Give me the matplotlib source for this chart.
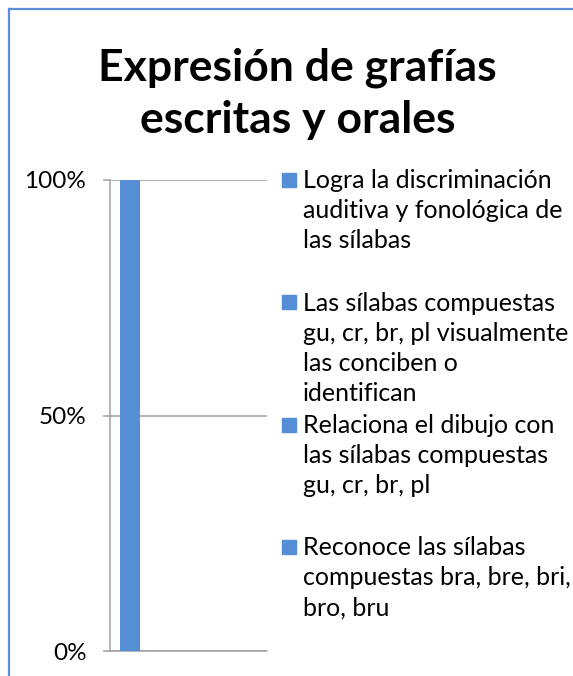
import matplotlib.pyplot as plt
from matplotlib.lines import Line2D
from matplotlib.patches import Rectangle
from matplotlib.ticker import FuncFormatter

plt.rcParams['font.family'] = ['Lato', 'DejaVu Sans']

# Data
title = "Expresión de grafías\nescritas y orales"
categories = [
    "Logra la discriminación\nauditiva y fonológica de\nlas sílabas",
    "Las sílabas compuestas\ngu, cr, br, pl visualmente\nlas conciben o\nidentifican",
    "Relaciona el dibujo con\nlas sílabas compuestas\ngu, cr, br, pl",
    "Reconoce las sílabas\ncompuestas bra, bre, bri,\nbro, bru",
]
values = [100, 0, 0, 0]
yticks = [0, 50, 100]

bar_color = '#558ed5'
grid_color = '#a0a0a0'
W, H = 573, 676

fig = plt.figure(figsize=(W / 100, H / 100), dpi=100)

# chart frame (only top/left edges are inside the crop)
frame = '#5b8fd9'
fig.add_artist(Line2D([9 / W, 9 / W], [0, 1 - 9 / H], transform=fig.transFigure, color=frame, lw=1.6))
fig.add_artist(Line2D([9 / W, 1], [1 - 9 / H, 1 - 9 / H], transform=fig.transFigure, color=frame, lw=1.6))

ax = fig.add_axes([110 / W, 1 - 651 / H, 157 / W, 471 / H])
x = list(range(len(categories)))
ax.bar(x, values, width=0.51, color=bar_color, zorder=3)
ax.set_xlim(-0.5, len(categories) - 0.5)
ax.set_ylim(0, 100)
ax.set_yticks(yticks)
ax.yaxis.set_major_formatter(FuncFormatter(lambda v, p: f"{v:.0f}%"))
ax.set_xticks([])
ax.grid(axis='y', color=grid_color, lw=1.1, zorder=0)
for s in ['top', 'right']:
    ax.spines[s].set_visible(False)
for s in ['left', 'bottom']:
    ax.spines[s].set_color(grid_color)
    ax.spines[s].set_linewidth(1.1)
ax.tick_params(axis='y', length=5, width=1.1, color=grid_color, pad=12,
               labelsize=17.5, labelcolor='black')

# title
for i, line in enumerate(title.split('\n')):
    fig.text(297.5 / W, 1 - (80 + 53 * i) / H, line, ha='center', va='baseline',
             fontsize=32, fontweight='bold')

# legend drawn by hand (Excel style fixed spacing)
for k, lab in enumerate(categories):
    cy = 180 + 122.3 * k
    fig.patches.append(Rectangle((282 / W, 1 - (cy + 7) / H), 14 / W, 14 / H,
                                 transform=fig.transFigure, color=bar_color))
    for j, line in enumerate(lab.split('\n')):
        fig.text(303 / W, 1 - (cy + 8.5 + 30 * j) / H, line, ha='left', va='baseline',
                 fontsize=18)

fig.savefig('out.png', dpi=100)
